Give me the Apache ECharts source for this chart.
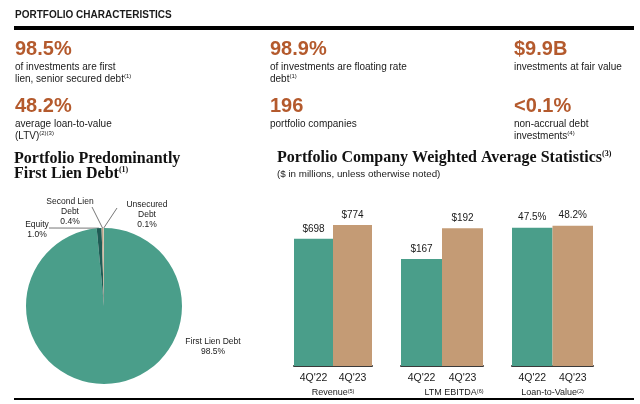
<!DOCTYPE html>
<html><head><meta charset="utf-8">
<script src="https://cdn.jsdelivr.net/npm/echarts@6/dist/echarts.min.js"></script>
<style>html,body{margin:0;padding:0;background:#fff}#c{width:640px;height:404px}</style>
</head><body><div id="c"></div>
<script>
// ---------- data ----------
const headerTitle = 'PORTFOLIO CHARACTERISTICS';
const statValues = ['98.5%', '98.9%', '$9.9B', '48.2%', '196', '<0.1%'];
const statLines = [
  ['of investments are first', 'lien, senior secured debt{s|(1)}'],
  ['of investments are floating rate', 'debt{s|(1)}'],
  ['investments at fair value'],
  ['average loan-to-value', '(LTV){s|(2)(3)}'],
  ['portfolio companies'],
  ['non-accrual debt', 'investments{s|(4)}']
];
const pieTitleLines = ['Portfolio Predominantly', 'First Lien Debt{s|(1)}'];
const pieNames = ['First Lien Debt', 'Equity', 'Second Lien\nDebt', 'Unsecured\nDebt'];
const pieValues = [98.5, 1.0, 0.4, 0.1];
const barTitle = 'Portfolio Company Weighted Average Statistics{s|(3)}';
const barSubtitle = '($ in millions, unless otherwise noted)';
const periods = ["4Q'22", "4Q'23"];
const revenue = [698, 774];
const ebitda = [167, 192];
const ltv = [47.5, 48.2];
const metricNames = ['Revenue', 'LTM EBITDA', 'Loan-to-Value'];
const metricNotes = ['(5)', '(6)', '(2)'];

// ---------- styles / layout ----------
const SANS = '"Liberation Sans", Arial, sans-serif';
const SERIF = '"Liberation Serif", "Times New Roman", serif';
const ORANGE = '#b45a2d';
const TEXT = '#1a1a1a';
const GREEN = '#4a9e8a';
const TAN = '#c49b75';
const pieColors = [GREEN, '#1f5c55', '#b9a58d', '#d8c2a4'];
const barColors = [GREEN, TAN];
const colX = [15, 270, 514];
const rowBigY = [49.5, 106.5];
const rowDescY = [61, 118];
const supRich = { s: { fontSize: 6, verticalAlign: 'top', fontFamily: SANS, fill: TEXT } };
const serifSup = { s: { fontSize: 8, verticalAlign: 'top', fontFamily: SERIF, fontWeight: 'bold', fill: '#111' } };

const graphics = [];
graphics.push({ type: 'text', x: 15, y: 15, style: { text: headerTitle, font: 'bold 10px ' + SANS, fill: TEXT, verticalAlign: 'middle' } });
graphics.push({ type: 'rect', shape: { x: 14, y: 26, width: 620, height: 4 }, style: { fill: '#000' } });
graphics.push({ type: 'rect', shape: { x: 14, y: 398, width: 620, height: 2 }, style: { fill: '#000' } });
statValues.forEach((v, i) => {
  const c = i % 3, r = Math.floor(i / 3);
  graphics.push({ type: 'text', x: colX[c], y: rowBigY[r], style: { text: v, font: 'bold 20px ' + SANS, fill: ORANGE, verticalAlign: 'middle' } });
  graphics.push({ type: 'text', x: colX[c], y: rowDescY[r], style: { text: statLines[i].join('\n'), fontSize: 10, fontFamily: SANS, lineHeight: 12, fill: TEXT, verticalAlign: 'top', rich: supRich } });
});
graphics.push({ type: 'text', x: 14, y: 151, style: { text: pieTitleLines.join('\n'), fontWeight: 'bold', fontSize: 16, fontFamily: SERIF, lineHeight: 15, fill: '#111', verticalAlign: 'top', rich: serifSup } });
graphics.push({ type: 'text', x: 277, y: 158, style: { text: barTitle, fontWeight: 'bold', fontSize: 16, fontFamily: SERIF, fill: '#111', verticalAlign: 'middle', rich: serifSup } });
graphics.push({ type: 'text', x: 277, y: 174, style: { text: barSubtitle, fontSize: 9.8, fontFamily: SANS, fill: TEXT, verticalAlign: 'middle' } });

const gridBoxes = [{ left: 294, width: 78 }, { left: 401, width: 82 }, { left: 512, width: 81 }];
const yRanges = [[0, 911], [80, 215], [0, 57]];
const barData = [revenue, ebitda, ltv];
const fmts = [v => '$' + v, v => '$' + v, v => v.toFixed(1) + '%'];
const nameShift = [0, 24, 0];

const pieLabelPos = [
  { x: 213, y: 347, end: null },
  { x: 37, y: 230, end: [49, 228] },
  { x: 70, y: 212, end: [92, 207] },
  { x: 147, y: 215, end: [117, 208] }
];

const option = {
  animation: false,
  backgroundColor: '#fff',
  graphic: graphics,
  grid: gridBoxes.map(g => ({ left: g.left, width: g.width, top: 200, bottom: 38 })),
  xAxis: gridBoxes.map((g, i) => ({
    type: 'category', gridIndex: i, data: periods,
    axisTick: { show: false },
    axisLine: { lineStyle: { color: '#3a3a3a', width: 2 } },
    axisLabel: { fontSize: 10.5, color: TEXT, fontFamily: SANS, margin: 7 },
    name: metricNames[i] + '{s|' + metricNotes[i] + '}',
    nameLocation: 'middle', nameGap: 22,
    nameTextStyle: { fontSize: 9, color: TEXT, fontFamily: SANS, padding: [0, 0, 0, nameShift[i]], rich: { s: { fontSize: 5.5, verticalAlign: 'top', color: TEXT } } }
  })),
  yAxis: gridBoxes.map((g, i) => ({ type: 'value', gridIndex: i, show: false, min: yRanges[i][0], max: yRanges[i][1], splitLine: { show: false } })),
  series: [
    ...barData.map((vals, i) => ({
      type: 'bar', xAxisIndex: i, yAxisIndex: i, barCategoryGap: '0%',
      data: vals.map((v, j) => ({ value: v, itemStyle: { color: barColors[j] } })),
      label: { show: true, position: 'top', distance: 5, fontSize: 10, color: TEXT, fontFamily: SANS, formatter: p => fmts[i](p.value) }
    })),
    {
      type: 'pie', center: [104, 306], radius: 78, startAngle: 90, clockwise: true, avoidLabelOverlap: false,
      data: pieNames.map((n, i) => ({ name: n, value: pieValues[i], itemStyle: { color: pieColors[i] }, labelLine: { show: i !== 0 } })),
      itemStyle: { borderWidth: 0 },
      label: { show: true, position: 'outside', fontSize: 8.5, lineHeight: 10, color: TEXT, fontFamily: SANS, formatter: p => p.name + '\n' + p.value.toFixed(1) + '%' },
      labelLine: { show: true, length: 8, length2: 8, lineStyle: { color: '#777', width: 1 } },
      emphasis: { disabled: true },
      labelLayout: function (p) {
        const pos = pieLabelPos[p.dataIndex];
        const out = { x: pos.x, y: pos.y, align: 'center', verticalAlign: 'middle' };
        if (pos.end) {
          let a = p.labelLinePoints && p.labelLinePoints[0];
          if (!a) a = [p.rect.x + p.rect.width / 2, p.rect.y];
          out.labelLinePoints = [a, pos.end, pos.end];
        }
        return out;
      }
    }
  ]
};
const chart = echarts.init(document.getElementById('c'), null, { renderer: 'canvas' });
chart.setOption(option);
</script></body></html>
